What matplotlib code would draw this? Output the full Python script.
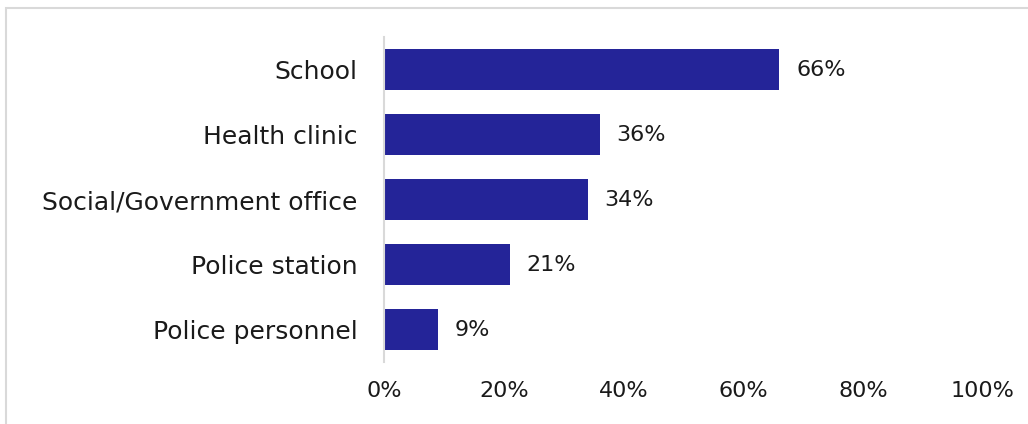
import matplotlib.pyplot as plt
from matplotlib.patches import Rectangle

categories = ["School", "Health clinic", "Social/Government office",
              "Police station", "Police personnel"]
values = [66, 36, 34, 21, 9]
xticks = [0, 20, 40, 60, 80, 100]

plt.rcParams['font.family'] = ['DejaVu Sans']

fig = plt.figure(figsize=(10.28, 4.24), dpi=100)
ax = fig.add_axes([0.3735, 0.1462, 0.5827, 0.7665])

ypos = list(range(len(categories)))[::-1]
bars = ax.barh(ypos, values, height=0.63, color='#242498')

for y, v in zip(ypos, values):
    ax.text(v + 2.8, y, f"{v}%", va='center', ha='left', fontsize=16, color='#1a1a1a')

ax.set_xlim(0, 100)
ax.set_ylim(-0.5, 4.5)
ax.set_yticks(ypos)
ax.set_yticklabels(categories, fontsize=18, color='#1a1a1a')
ax.set_xticks(xticks)
ax.set_xticklabels([f"{t}%" for t in xticks], fontsize=16, color='#1a1a1a')
ax.tick_params(axis='both', length=0)
ax.tick_params(axis='y', pad=19)
ax.tick_params(axis='x', pad=14)

for s in ['top', 'right', 'bottom']:
    ax.spines[s].set_visible(False)
ax.spines['left'].set_color('#d9d9d9')
ax.spines['left'].set_linewidth(1.5)

# light frame around the chart area
fig.patches.append(Rectangle((6 / 1028, -0.01), 1.02, 1 - 8 / 424 + 0.01,
                             transform=fig.transFigure, fill=False,
                             edgecolor='#d9d9d9', linewidth=1.5))

fig.savefig('out.png', dpi=100)
